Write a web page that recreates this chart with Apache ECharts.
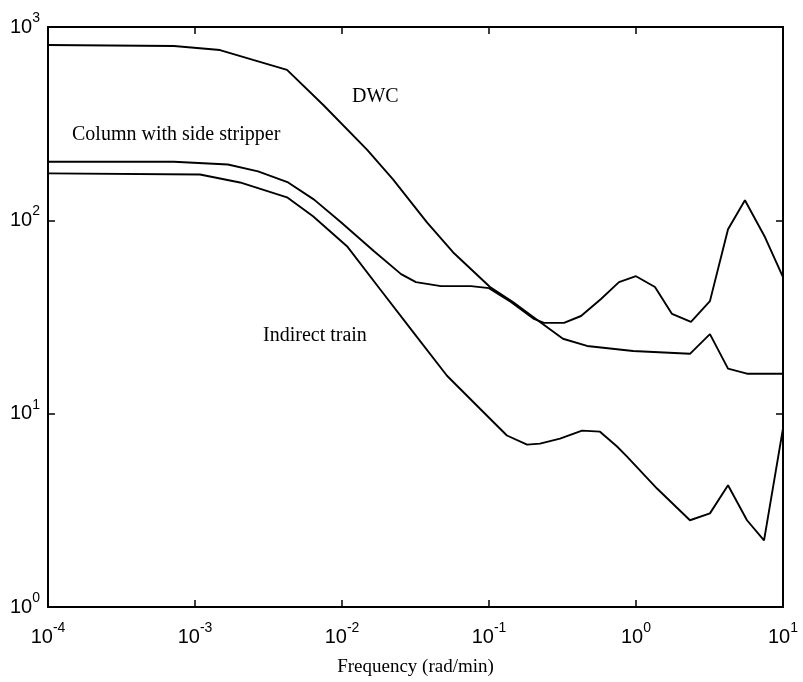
<!DOCTYPE html>
<html>
<head>
<meta charset="utf-8">
<script src="https://cdn.jsdelivr.net/npm/echarts@6/dist/echarts.min.js"></script>
<style>
  html, body { margin: 0; padding: 0; background: #fff; }
  #chart { width: 803px; height: 682px; }
</style>
</head>
<body>
<div id="chart"></div>
<script>
// Frequency response magnitude of three column configurations (log-log)

// DWC
const dwcFreq = [1e-4, 7.19e-4, 1.479e-3, 2.483e-3, 4.227e-3, 7.43e-3, 0.01479, 0.02223,
  0.03784, 0.05689, 0.1016, 0.1455, 0.2223, 0.3184, 0.4645, 0.955, 2.328, 3.184, 4.227, 5.689, 10];
const dwcMag = [807, 798, 760, 676, 600, 396, 232, 163,
  97.7, 68.4, 45.2, 37.8, 29.8, 24.4, 22.4, 21.1, 20.4, 25.8, 17.1, 16.1, 16.1];

// Column with side stripper
const sideFreq = [1e-4, 7.19e-4, 1.675e-3, 2.685e-3, 4.30e-3, 6.46e-3, 9.84e-3, 0.01652,
  0.02523, 0.03184, 0.0471, 0.0755, 0.1, 0.141, 0.2023, 0.2366, 0.3236, 0.4227, 0.578,
  0.766, 1.0, 1.346, 1.758, 2.366, 3.184, 4.227, 5.508, 7.55, 10];
const sideMag = [201, 201, 194.5, 179, 157, 128, 97.7, 69.2,
  52.7, 47.9, 45.7, 45.7, 44.6, 37.8, 30.9, 29.5, 29.5, 32, 39.2,
  47.9, 51.4, 45.2, 32.8, 29.8, 38.2, 90, 127, 81.7, 50.8];

// Indirect train
const indFreq = [1e-4, 1.081e-3, 2.023e-3, 4.227e-3, 6.35e-3, 0.01081, 0.01816, 0.0304,
  0.0518, 0.0869, 0.1324, 0.1816, 0.2223, 0.304, 0.4295, 0.569, 0.743, 0.869, 1.39,
  2.328, 3.184, 4.227, 5.689, 7.43, 10];
const indMag = [175, 172.6, 157, 131.5, 105, 73.5, 44, 26.5,
  15.7, 10.6, 7.71, 6.92, 7.0, 7.43, 8.17, 8.07, 6.76, 6.0, 4.10,
  2.81, 3.05, 4.26, 2.81, 2.21, 8.4];

const curveNames = ['DWC', 'Column with side stripper', 'Indirect train'];
const xTitle = 'Frequency (rad/min)';

const pairs = (xs, ys) => xs.map((x, i) => [x, ys[i]]);

const powLabel = v => {
  const e = Math.round(Math.log10(v));
  return '{b|10}{s|' + e + '}';
};
const richTick = {
  b: { fontSize: 20, fontFamily: 'Liberation Sans, Arial, sans-serif', color: '#000', lineHeight: 26, verticalAlign: 'bottom' },
  s: { fontSize: 14, fontFamily: 'Liberation Sans, Arial, sans-serif', color: '#000', lineHeight: 14, verticalAlign: 'top' }
};

const boxLine = { show: true, lineStyle: { color: '#000', width: 2 } };
const inTicks = { show: true, inside: true, length: 7, lineStyle: { color: '#000', width: 1.5 } };
const annFont = '20px "Liberation Serif", "Times New Roman", serif';

const chart = echarts.init(document.getElementById('chart'), null, { renderer: 'canvas' });

const lineSeries = (name, xs, ys) => ({
  name: name,
  type: 'line',
  data: pairs(xs, ys),
  showSymbol: false,
  symbol: 'none',
  smooth: false,
  lineStyle: { color: '#000', width: 1.9 },
  z: 3
});

chart.setOption({
  animation: false,
  backgroundColor: '#fff',
  grid: { left: 48, right: 20, top: 27, bottom: 73, containLabel: false },
  xAxis: [
    {
      type: 'log', logBase: 10, min: 1e-4, max: 10, position: 'bottom',
      axisLine: boxLine, axisTick: inTicks, splitLine: { show: false }, minorTick: { show: false },
      axisLabel: { formatter: powLabel, rich: richTick, margin: 14 },
      name: xTitle, nameLocation: 'middle', nameGap: 51,
      nameTextStyle: { fontFamily: 'Liberation Serif, Times New Roman, serif', fontSize: 19, color: '#000' }
    },
    {
      type: 'log', logBase: 10, min: 1e-4, max: 10, position: 'top',
      axisLine: boxLine, axisTick: inTicks, splitLine: { show: false },
      axisLabel: { show: false }
    }
  ],
  yAxis: [
    {
      type: 'log', logBase: 10, min: 1, max: 1000, position: 'left',
      axisLine: boxLine, axisTick: inTicks, splitLine: { show: false },
      axisLabel: { formatter: powLabel, rich: richTick, margin: 8, padding: [0, 0, 6, 0] }
    },
    {
      type: 'log', logBase: 10, min: 1, max: 1000, position: 'right',
      axisLine: boxLine, axisTick: inTicks, splitLine: { show: false },
      axisLabel: { show: false }
    }
  ],
  series: [
    lineSeries(curveNames[0], dwcFreq, dwcMag),
    lineSeries(curveNames[1], sideFreq, sideMag),
    lineSeries(curveNames[2], indFreq, indMag)
  ],
  graphic: [
    { type: 'text', x: 352, y: 97, style: { text: curveNames[0], font: annFont, fill: '#000', verticalAlign: 'middle' } },
    { type: 'text', x: 72, y: 135, style: { text: curveNames[1], font: annFont, fill: '#000', verticalAlign: 'middle' } },
    { type: 'text', x: 263, y: 336, style: { text: curveNames[2], font: annFont, fill: '#000', verticalAlign: 'middle' } }
  ]
});
</script>
</body>
</html>
